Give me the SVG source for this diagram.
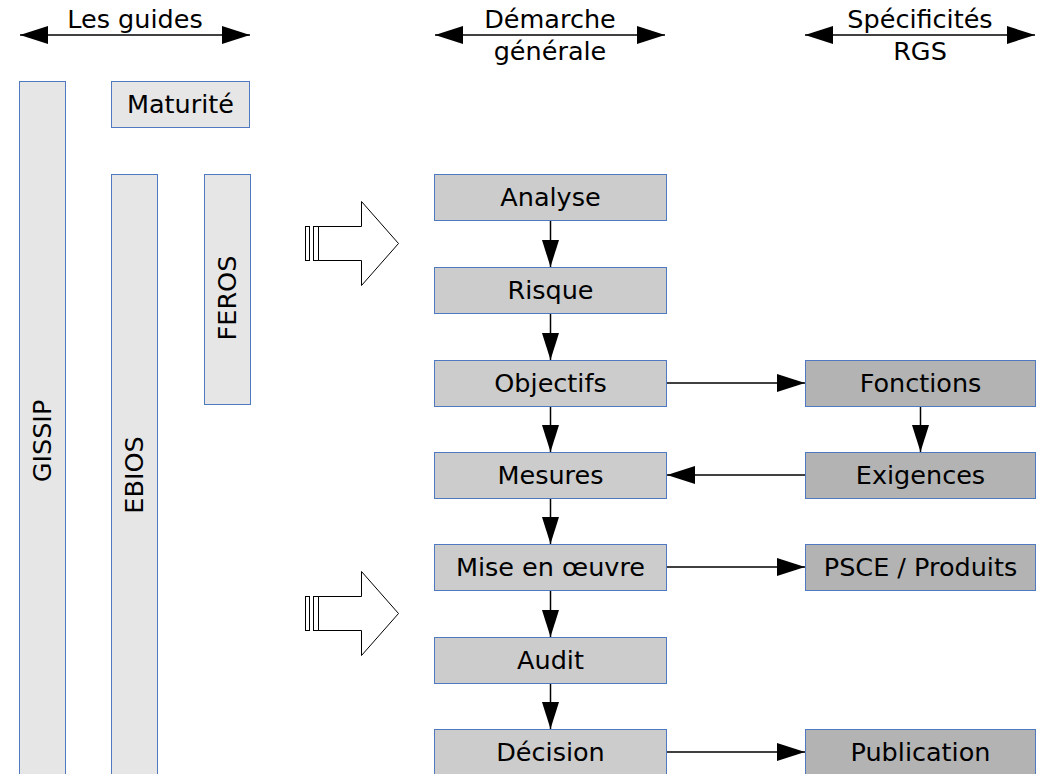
<svg xmlns="http://www.w3.org/2000/svg" width="1039" height="774" viewBox="0 0 1039 774">
<style>
text{font-family:"DejaVu Sans","Liberation Sans",sans-serif;font-size:25.5px;fill:#000;text-anchor:middle}
.bar{fill:#e6e6e6;stroke:#4f7ac0;stroke-width:1}
.mid{fill:#cccccc;stroke:#4f7ac0;stroke-width:1}
.rgt{fill:#b3b3b3;stroke:#4f7ac0;stroke-width:1}
.ln{stroke:#000;stroke-width:1.5;fill:none}
.hollow{fill:#fff;stroke:#000;stroke-width:1}
</style>
<defs>
<marker id="ah" viewBox="0 0 28 18" refX="28" refY="9" markerWidth="28" markerHeight="18" markerUnits="userSpaceOnUse" orient="auto-start-reverse">
<path d="M0,0 L28,9 L0,18 Z" fill="#000"/>
</marker>
<marker id="ahv" viewBox="0 0 27 17" refX="27" refY="8.5" markerWidth="27" markerHeight="17" markerUnits="userSpaceOnUse" orient="auto">
<path d="M0,0 L27,8.5 L0,17 Z" fill="#000"/>
</marker>
</defs>
<g id="headers">
<line class="ln" x1="20" y1="35" x2="250" y2="35" marker-start="url(#ah)" marker-end="url(#ah)"/>
<text x="135" y="28">Les guides</text>
<line class="ln" x1="435" y1="35" x2="665" y2="35" marker-start="url(#ah)" marker-end="url(#ah)"/>
<text x="550" y="28">Démarche</text>
<text x="550" y="60">générale</text>
<line class="ln" x1="805" y1="35" x2="1035" y2="35" marker-start="url(#ah)" marker-end="url(#ah)"/>
<text x="920" y="28">Spécificités</text>
<text x="920" y="60">RGS</text>
</g>
<g id="gissip"><rect class="bar" x="19.5" y="81.5" width="46" height="700"/><text transform="translate(51,441) rotate(-90)">GISSIP</text></g>
<g id="maturite"><rect class="bar" x="111.5" y="81.5" width="138" height="46"/><text x="180.5" y="113">Maturité</text></g>
<g id="ebios"><rect class="bar" x="111.5" y="174.5" width="46" height="610"/><text transform="translate(143,475) rotate(-90)">EBIOS</text></g>
<g id="feros"><rect class="bar" x="204.5" y="174.5" width="46" height="230"/><text transform="translate(236,298) rotate(-90)">FEROS</text></g>
<g id="bigarrow1">
<rect class="hollow" x="305.5" y="226.5" width="4" height="34"/>
<rect class="hollow" x="313.5" y="226.5" width="5" height="34"/>
<path class="hollow" d="M318.5,226.5 H361.5 V201.5 L398.5,243.5 L361.5,285.5 V260.5 H318.5 Z"/>
</g>
<g id="bigarrow2">
<rect class="hollow" x="305.5" y="596.5" width="4" height="34"/>
<rect class="hollow" x="313.5" y="596.5" width="5" height="34"/>
<path class="hollow" d="M318.5,596.5 H361.5 V571.5 L398.5,613.5 L361.5,655.5 V630.5 H318.5 Z"/>
</g>
<g id="analyse"><rect class="mid" x="434.5" y="174.5" width="232" height="46"/><text x="550.5" y="206">Analyse</text></g>
<g id="risque"><rect class="mid" x="434.5" y="267.5" width="232" height="46"/><text x="550.5" y="299">Risque</text></g>
<g id="objectifs"><rect class="mid" x="434.5" y="360.5" width="232" height="46"/><text x="550.5" y="392">Objectifs</text></g>
<g id="mesures"><rect class="mid" x="434.5" y="452.5" width="232" height="46"/><text x="550.5" y="484">Mesures</text></g>
<g id="miseenoeuvre"><rect class="mid" x="434.5" y="544.5" width="232" height="46"/><text x="550.5" y="576">Mise en œuvre</text></g>
<g id="audit"><rect class="mid" x="434.5" y="637.5" width="232" height="46"/><text x="550.5" y="669">Audit</text></g>
<g id="decision"><rect class="mid" x="434.5" y="729.5" width="232" height="46"/><text x="550.5" y="761">Décision</text></g>
<g id="fonctions"><rect class="rgt" x="805.5" y="360.5" width="230" height="46"/><text x="920.5" y="392">Fonctions</text></g>
<g id="exigences"><rect class="rgt" x="805.5" y="452.5" width="230" height="46"/><text x="920.5" y="484">Exigences</text></g>
<g id="psce"><rect class="rgt" x="805.5" y="544.5" width="230" height="46"/><text x="920.5" y="576">PSCE / Produits</text></g>
<g id="publication"><rect class="rgt" x="805.5" y="729.5" width="230" height="46"/><text x="920.5" y="761">Publication</text></g>
<g id="connectors">
<line class="ln" x1="550.5" y1="221" x2="550.5" y2="267" marker-end="url(#ahv)"/>
<line class="ln" x1="550.5" y1="314" x2="550.5" y2="360" marker-end="url(#ahv)"/>
<line class="ln" x1="550.5" y1="407" x2="550.5" y2="452" marker-end="url(#ahv)"/>
<line class="ln" x1="550.5" y1="499" x2="550.5" y2="544" marker-end="url(#ahv)"/>
<line class="ln" x1="550.5" y1="591" x2="550.5" y2="637" marker-end="url(#ahv)"/>
<line class="ln" x1="550.5" y1="684" x2="550.5" y2="729" marker-end="url(#ahv)"/>
<line class="ln" x1="920.5" y1="407" x2="920.5" y2="452" marker-end="url(#ahv)"/>
<line class="ln" x1="667" y1="383" x2="805" y2="383" marker-end="url(#ah)"/>
<line class="ln" x1="805" y1="475" x2="667" y2="475" marker-end="url(#ah)"/>
<line class="ln" x1="667" y1="567" x2="805" y2="567" marker-end="url(#ah)"/>
<line class="ln" x1="667" y1="752" x2="805" y2="752" marker-end="url(#ah)"/>
</g>
</svg>
